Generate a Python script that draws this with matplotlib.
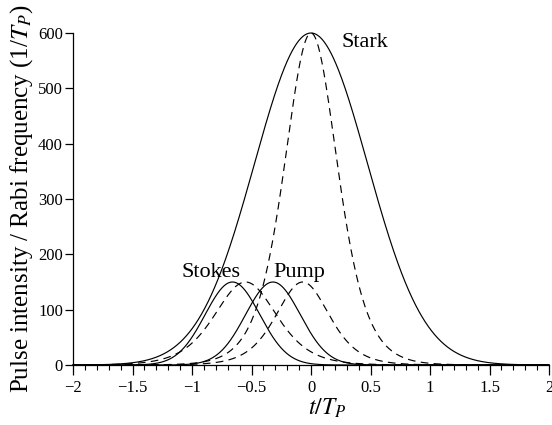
import numpy as np
import matplotlib
matplotlib.use("Agg")
import matplotlib.pyplot as plt
from matplotlib.ticker import MultipleLocator

plt.rcParams['font.family'] = ['Liberation Serif', 'DejaVu Serif']
plt.rcParams['mathtext.fontset'] = 'stix'

# Pulse parameters
pulse_names = ["Stark", "Stokes", "Pump"]
# solid curves (Gaussian pulses)
solid_peak = [600, 150, 150]
solid_center = [0.0, -0.66, -0.32]
solid_width = [0.475, 0.23, 0.23]
# dashed curves (sech^2 pulses)
dashed_peak = [600, 150, 150]
dashed_center = [0.0, -0.55, -0.07]
dashed_width = [0.30, 0.35, 0.30]

x_ticks = [-2, -1.5, -1, -0.5, 0, 0.5, 1, 1.5, 2]
x_tick_labels = ["\u22122", "\u22121.5", "\u22121", "\u22120.5", "0", "0.5", "1", "1.5", "2"]
y_ticks = [0, 100, 200, 300, 400, 500, 600]

label_text = ["Stark", "Stokes", "Pump"]
label_x = [0.26, -1.085, -0.32]
label_y = [583, 168, 168]

t = np.linspace(-2, 2, 1601)

fig = plt.figure(figsize=(5.52, 4.25), dpi=100)
ax = fig.add_axes([73/552, 60/425, 476/552, 332/425])

for a, c, w in zip(solid_peak, solid_center, solid_width):
    ax.plot(t, a*np.exp(-(t-c)**2/(2*w**2)), color='black', lw=0.85, clip_on=False)
for a, c, w in zip(dashed_peak, dashed_center, dashed_width):
    ax.plot(t, a/np.cosh((t-c)/w)**2, color='black', lw=0.85,
            linestyle=(0, (6.5, 4.5)), clip_on=False)

ax.set_xlim(-2, 2)
ax.set_ylim(0, 600)
for s in ['top', 'right']:
    ax.spines[s].set_visible(False)
for s in ['left', 'bottom']:
    ax.spines[s].set_linewidth(0.9)

ax.set_xticks(x_ticks)
ax.set_xticklabels(x_tick_labels)
ax.set_yticks(y_ticks)
ax.xaxis.set_minor_locator(MultipleLocator(0.1))
ax.tick_params(axis='x', which='major', direction='out', length=7.5, width=0.9,
               labelsize=12, pad=3)
ax.tick_params(axis='x', which='minor', direction='out', length=3.8, width=0.8)
ax.tick_params(axis='y', which='major', direction='out', length=5.8, width=0.9,
               labelsize=12, pad=1.5)

ax.set_xlabel(r"$t/T_P$", fontsize=17, va='center')
ax.xaxis.set_label_coords(0.534, -0.13)
ax.set_ylabel(r"Pulse intensity / Rabi frequency (1/$T_P$)", fontsize=18, va='center')
ax.yaxis.set_label_coords(-0.107, 0.5)

for txt, lx, ly in zip(label_text, label_x, label_y):
    ax.text(lx, ly, txt, fontsize=16, ha='left', va='center')

fig.savefig("out.png", dpi=100)
